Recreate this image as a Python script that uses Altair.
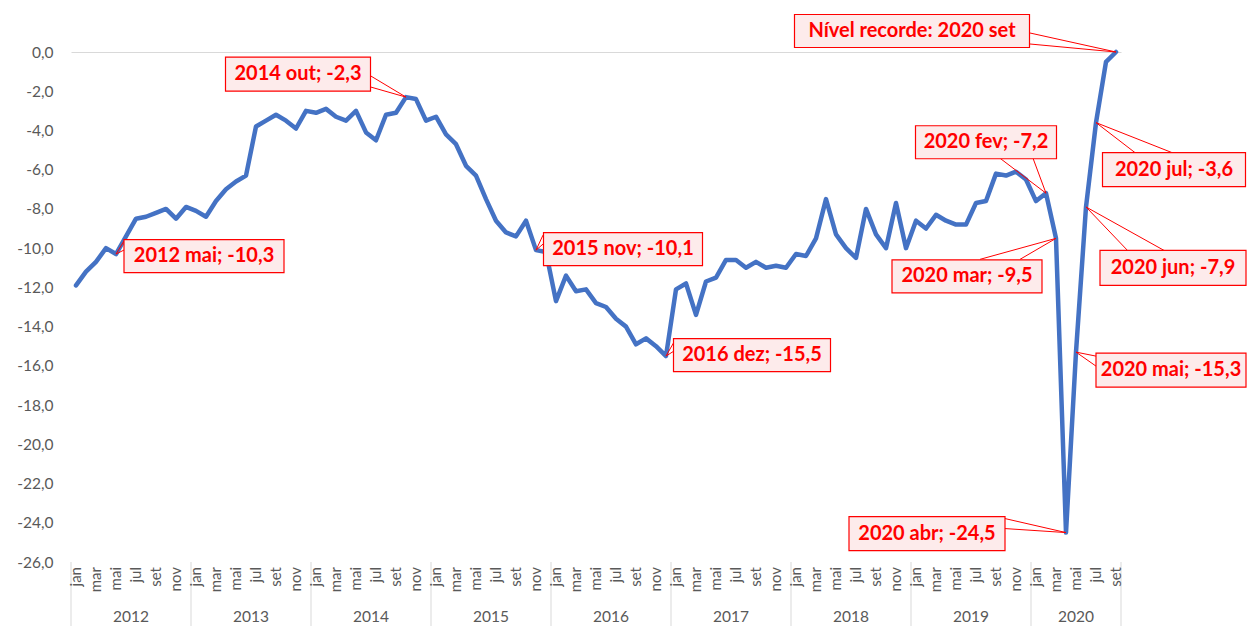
import altair as alt
import pandas as pd

# ---------------- data ----------------
MONTHS = ["jan", "fev", "mar", "abr", "mai", "jun", "jul", "ago", "set", "out", "nov", "dez"]
YEARS = [2012, 2013, 2014, 2015, 2016, 2017, 2018, 2019, 2020]

V2012 = [-11.9, -11.2, -10.7, -10.0, -10.3, -9.4, -8.5, -8.4, -8.2, -8.0, -8.5, -7.9]
V2013 = [-8.1, -8.4, -7.6, -7.0, -6.6, -6.3, -3.8, -3.5, -3.2, -3.5, -3.9, -3.0]
V2014 = [-3.1, -2.9, -3.3, -3.5, -3.0, -4.1, -4.5, -3.2, -3.1, -2.3, -2.4, -3.5]
V2015 = [-3.3, -4.2, -4.7, -5.8, -6.3, -7.5, -8.6, -9.2, -9.4, -8.6, -10.1, -10.2]
V2016 = [-12.7, -11.4, -12.2, -12.1, -12.8, -13.0, -13.6, -14.0, -14.9, -14.6, -15.0, -15.5]
V2017 = [-12.1, -11.8, -13.4, -11.7, -11.5, -10.6, -10.6, -11.0, -10.7, -11.0, -10.9, -11.0]
V2018 = [-10.3, -10.4, -9.5, -7.5, -9.3, -10.0, -10.5, -8.0, -9.3, -10.0, -7.7, -10.0]
V2019 = [-8.6, -9.0, -8.3, -8.6, -8.8, -8.8, -7.7, -7.6, -6.2, -6.3, -6.1, -6.5]
V2020 = [-7.6, -7.2, -9.5, -24.5, -15.3, -7.9, -3.6, -0.5, 0.0]

VALUES = V2012 + V2013 + V2014 + V2015 + V2016 + V2017 + V2018 + V2019 + V2020
Y_TICKS = list(range(-26, 1, 2))

# highlighted points (index into VALUES) and optional custom text
HIGHLIGHT_IDX = [4, 33, 46, 59, 97, 98, 99, 100, 101, 102, 104]
RECORD_TEXT = "Nível recorde: 2020 set"


def fmt(v):
    return f"{v:.1f}".replace(".", ",")


def label_for(i):
    if i == 104:
        return RECORD_TEXT
    return f"{YEARS[i // 12]} {MONTHS[i % 12]}; {fmt(VALUES[i])}"


# ---------------- layout (pixel offsets of callouts from their point) ----------------
# idx: (dx, dy, w, h, (ax1, ay1), (ax2, ay2))
CALLOUT_LAYOUT = {
    4: (88, 2, 160, 33, (8, -13), (8, -4)),
    33: (-108, -23, 145, 34, (-35, -21), (-35, -10)),
    46: (87, -1, 159, 33, (7, -15), (7, -6)),
    59: (86, -1, 157, 33, (8, -14), (8, -5)),
    97: (-60, -51, 141, 33, (-46, -35), (-13, -35)),
    98: (-89, 38, 150, 33, (-76, 21), (-36, 21)),
    99: (-139, 1, 156, 34, (-61, -14), (-61, -4)),
    100: (95, 18, 150, 34, (20, 4), (20, 14)),
    101: (87, 61, 146, 35, (42, 44), (79, 44)),
    102: (78, 47, 143, 34, (39, 30), (76, 30)),
    104: (-204, -21, 235, 33, (-86, -19), (-86, -8)),
}

W, H = 1050, 510
N = len(VALUES)
FONT = "Lato"
GREY = "#595959"
RED = "#FF0000"

xs = alt.Scale(domain=[-0.5, N - 0.5], nice=False, zero=False)
ys = alt.Scale(domain=[-26, 0], nice=False, zero=False)

X_AXIS = alt.Axis(orient="top", labels=False, ticks=False, grid=False, title=None,
                  domain=True, domainColor="#D9D9D9", domainWidth=1.2)
Y_AXIS = alt.Axis(values=Y_TICKS, ticks=False, domain=False, grid=False, title=None,
                  labelOverlap=False, labelFlush=False,
                  labelPadding=18, labelFont=FONT, labelFontSize=15.5,
                  labelColor=GREY,
                  labelExpr="(datum.value < 0 ? '-' : '') + abs(datum.value) + ',0'")


def X(field):
    return alt.X(field, scale=xs, axis=X_AXIS)


def Y(field):
    return alt.Y(field, scale=ys, axis=Y_AXIS)


df = pd.DataFrame({"idx": list(range(N)), "value": VALUES})

line = alt.Chart(df).mark_line(
    color="#4472C4", strokeWidth=4.5, strokeJoin="round", strokeCap="round"
).encode(x=X("idx:Q"), y=Y("value:Q"))

# month labels (every other month)
mdf = pd.DataFrame({"idx": list(range(0, N, 2)),
                    "m": [MONTHS[i % 12] for i in range(0, N, 2)]})
month_text = alt.Chart(mdf).mark_text(
    angle=270, align="right", baseline="middle", font=FONT, fontSize=15, color=GREY
).encode(x=X("idx:Q"), y=alt.value(H + 5), text="m:N")

# year labels
ystart = [k * 12 - 0.5 for k in range(len(YEARS))]
yend = [min((k + 1) * 12, N) - 0.5 for k in range(len(YEARS))]
ydf = pd.DataFrame({"c": [(a + b) / 2 for a, b in zip(ystart, yend)],
                    "y": [str(y) for y in YEARS]})
year_text = alt.Chart(ydf).mark_text(
    align="center", baseline="middle", font=FONT, fontSize=15.5, color=GREY
).encode(x=X("c:Q"), y=alt.value(H + 55), text="y:N")

# separators
sdf = pd.DataFrame({"s": ystart + [yend[-1]]})
seps = alt.Chart(sdf).mark_rule(color="#D9D9D9", strokeWidth=1).encode(
    x=X("s:Q"), y=alt.value(H), y2=alt.value(H + 72))

layers = [line, seps, month_text, year_text]

for i in HIGHLIGHT_IDX:
    dx, dy, w, h, a1, a2 = CALLOUT_LAYOUT[i]
    d = pd.DataFrame({"idx": [i], "value": [VALUES[i]], "label": [label_for(i)]})
    base = alt.Chart(d)
    for ax, ay in (a1, a2):
        layers.append(base.mark_rule(color=RED, strokeWidth=1,
                                     x2Offset=ax, y2Offset=ay).encode(
            x=X("idx:Q"), y=Y("value:Q"), x2="idx:Q", y2="value:Q"))
    layers.append(base.mark_rect(
        fill="#FDEBEB", stroke=RED, strokeWidth=1.2,
        xOffset=dx - w / 2, x2Offset=dx + w / 2,
        yOffset=dy - h / 2, y2Offset=dy + h / 2,
    ).encode(x=X("idx:Q"), x2="idx:Q", y=Y("value:Q"), y2="value:Q"))
    layers.append(base.mark_text(
        dx=dx, dy=dy, align="center", baseline="middle",
        font=FONT, fontWeight="bold", fontSize=20, color=RED,
    ).encode(x=X("idx:Q"), y=Y("value:Q"), text="label:N"))

chart = alt.layer(*layers).properties(
    width=W, height=H,
    autosize=alt.AutoSizeParams(type="none"),
    padding={"left": 63, "top": 44, "right": 126, "bottom": 64},
).configure_view(stroke=None)

chart.save("out.html", embed_options={"renderer": "svg", "actions": False})
